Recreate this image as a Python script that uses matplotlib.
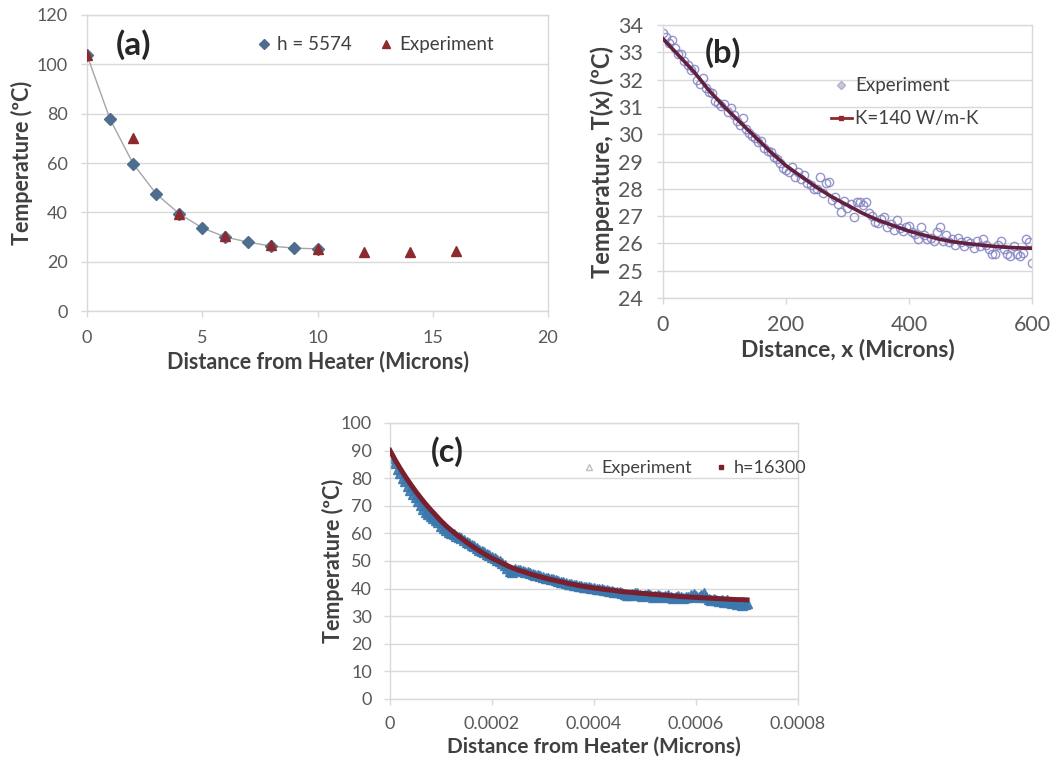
import matplotlib
matplotlib.use('Agg')
from matplotlib import pyplot as plt
from matplotlib.lines import Line2D

plt.rcParams['font.family'] = ['Lato', 'DejaVu Sans']

# (a) fin model vs. measured temperatures
a_model_x = [0, 1, 2, 3, 4, 5, 6, 7, 8, 9, 10]
a_model_t = [103.7, 77.7, 59.7, 47.5, 39.4, 33.7, 30.0, 27.9, 26.3, 25.5, 25.2]
a_exp_x = [0, 2, 4, 6, 8, 10, 12, 14, 16]
a_exp_t = [103.7, 70.0, 39.3, 30.6, 26.6, 25.2, 24.0, 24.0, 24.2]

# (b) conduction fit, K = 140 W/m-K
b_model_x = [0, 25, 50, 75, 100, 125, 150, 175, 200, 225, 250, 275, 300,
             325, 350, 375, 400, 425, 450, 475, 500, 525, 550, 575, 600]
b_model_t = [33.5, 32.9, 32.3, 31.6, 31.0, 30.45, 29.9, 29.35, 28.85, 28.45,
             28.05, 27.7, 27.4, 27.1, 26.85, 26.65, 26.45, 26.3, 26.15, 26.05,
             25.98, 25.92, 25.87, 25.84, 25.82]
b_exp_x = list(range(0, 605, 5))
b_exp_t = [33.7, 33.55, 33.35, 33.45, 33.15, 32.95, 32.95, 32.7, 32.55, 32.35,
           32.4, 32.0, 31.85, 32.05, 31.7, 31.55, 31.5, 31.2, 31.15, 31.05,
           31.1, 30.8, 30.95, 30.7, 30.5, 30.35, 30.6, 30.2, 30.05, 29.95,
           29.85, 29.7, 29.75, 29.5, 29.4, 29.35, 29.15, 29.1, 28.95, 28.75,
           28.7, 28.6, 28.8, 28.45, 28.6, 28.35, 28.5, 28.2, 28.15, 28.0,
           28.0, 28.45, 27.85, 28.2, 28.25, 27.6, 27.7, 27.45, 27.15, 27.55,
           27.3, 27.45, 26.95, 27.5, 27.5, 27.4, 27.5, 27.1, 27.0, 26.8,
           26.75, 26.9, 26.95, 26.6, 26.7, 26.5, 26.85, 26.55, 26.45, 26.6,
           26.65, 26.4, 26.35, 26.15, 26.6, 26.3, 26.15, 26.2, 26.1, 26.4,
           26.6, 26.1, 26.3, 26.05, 26.15, 25.95, 26.2, 26.05, 25.9, 26.1,
           26.0, 25.85, 26.1, 25.9, 26.15, 25.95, 25.8, 25.6, 25.6, 25.95,
           26.1, 25.8, 25.6, 25.55, 25.9, 25.6, 25.55, 25.65, 26.15, 26.05,
           25.3]

# (c) convection fit, h = 16300
c_model_x = [i * 1e-5 for i in range(71)]
c_model_t = [90.0, 86.6, 83.5, 80.6, 77.9, 75.3, 72.9, 70.6, 68.5, 66.5,
             64.5, 62.7, 61.1, 59.6, 58.2, 56.8, 55.5, 54.3, 53.1, 52.0,
             51.0, 50.1, 49.2, 48.3, 47.5, 46.8, 46.2, 45.6, 45.0, 44.5,
             44.0, 43.5, 43.1, 42.7, 42.3, 41.8, 41.5, 41.1, 40.8, 40.5,
             40.2, 40.0, 39.7, 39.5, 39.3, 39.0, 38.8, 38.7, 38.5, 38.3,
             38.2, 38.0, 37.9, 37.7, 37.6, 37.4, 37.3, 37.1, 37.0, 36.9,
             36.8, 36.7, 36.6, 36.5, 36.4, 36.3, 36.2, 36.1, 36.0, 36.0,
             35.9]
c_exp_x = [i * 5e-6 for i in range(141)]
c_exp_t = [89.0, 87.2, 85.4, 83.5, 81.9, 80.2, 78.8, 77.2, 75.8, 74.4,
           73.0, 71.7, 70.3, 68.9, 67.8, 67.1, 66.3, 65.5, 64.7, 64.0,
           62.8, 62.1, 61.4, 60.6, 60.1, 59.7, 59.1, 58.7, 58.2, 57.6,
           57.0, 56.5, 55.9, 55.3, 54.6, 54.0, 53.6, 53.1, 52.6, 52.0,
           51.4, 50.9, 50.3, 49.9, 49.2, 48.6, 47.6, 46.3, 46.0, 47.0,
           46.9, 46.6, 46.4, 46.1, 45.9, 45.6, 45.3, 45.0, 44.8, 44.5,
           44.3, 44.0, 43.8, 43.6, 43.3, 43.1, 42.8, 42.5, 42.3, 42.0,
           41.8, 41.6, 41.4, 41.2, 41.0, 40.9, 40.7, 40.5, 40.4, 40.2,
           40.1, 40.0, 39.8, 39.7, 39.5, 39.4, 39.2, 39.0, 38.9, 38.8,
           38.6, 38.4, 38.1, 37.7, 37.5, 37.9, 38.5, 38.3, 37.8, 37.3,
           37.6, 38.0, 37.5, 37.1, 37.3, 37.7, 37.4, 36.9, 37.2, 37.5,
           37.1, 36.7, 37.0, 37.3, 36.9, 36.5, 36.8, 37.1, 37.6, 38.2,
           37.3, 36.9, 37.7, 38.3, 36.9, 36.3, 36.0, 36.4, 35.9, 35.5,
           35.8, 35.3, 35.7, 35.0, 34.7, 35.1, 34.3, 34.6, 34.1, 34.5,
           34.8]
c_xticks = [0, 0.0002, 0.0004, 0.0006, 0.0008]
c_xticklabels = ['0', '0.0002', '0.0004', '0.0006', '0.0008']

GRID = '#d9d9d9'
TXT = '#404040'
TICK = '#595959'


def excel_style(ax, tick_size, xpad, ypad):
    ax.set_facecolor('white')
    ax.grid(axis='y', color=GRID, linewidth=1.0)
    ax.set_axisbelow(True)
    for s in ax.spines.values():
        s.set_color(GRID)
        s.set_linewidth(1.0)
    ax.tick_params(axis='both', colors=GRID, length=4, width=1.0,
                   labelsize=tick_size, labelcolor=TICK)
    ax.tick_params(axis='x', pad=xpad)
    ax.tick_params(axis='y', pad=ypad)


fig = plt.figure(figsize=(10.59, 7.61), dpi=100)

# ---- panel (a)
ax1 = fig.add_axes([0.0822, 0.5913, 0.4353, 0.389])
excel_style(ax1, 13, 10, 10)
ax1.plot(a_model_x, a_model_t, color='#a6a6a6', linewidth=1.0, zorder=2)
ax1.plot(a_model_x, a_model_t, linestyle='none', marker='D', markersize=6.5,
         color='#4f6d8f', markeredgecolor='#4f6d8f', zorder=3)
ax1.plot(a_exp_x, a_exp_t, linestyle='none', marker='^', markersize=7.5,
         color='#8c2a2e', markeredgecolor='#8c2a2e', zorder=4)
ax1.set_xlim(0, 20)
ax1.set_ylim(0, 120)
ax1.set_xticks([0, 5, 10, 15, 20])
ax1.set_yticks(range(0, 121, 20))
ax1.set_xlabel('Distance from Heater (Microns)', fontsize=15.5, fontweight='bold', color=TXT)
ax1.set_ylabel('Temperature (ºC)', fontsize=15.5, fontweight='bold', color=TXT)
ax1.xaxis.set_label_coords(0.5, -0.135)
ax1.yaxis.set_label_coords(-0.117, 0.5)
ax1.text(0.1, 0.9, '(a)', transform=ax1.transAxes, fontsize=24,
         fontweight='bold', color='#262626', ha='center', va='center')
h_a = [Line2D([], [], linestyle='none', marker='D', markersize=5, color='#4f6d8f'),
       Line2D([], [], linestyle='none', marker='^', markersize=6, color='#8c2a2e')]
ax1.legend(h_a, ['h = 5574', 'Experiment'], loc='center', bbox_to_anchor=(0.625, 0.9),
           ncol=2, frameon=False, fontsize=13.5, handlelength=0.8,
           handletextpad=0.3, columnspacing=1.4, labelcolor=TXT)

# ---- panel (b)
ax2 = fig.add_axes([0.626, 0.6084, 0.3485, 0.3587])
excel_style(ax2, 15.5, 8, 10.5)
ax2.plot(b_exp_x, b_exp_t, linestyle='none', marker='o', markersize=6,
         markerfacecolor='none', markeredgecolor='#8383c4', markeredgewidth=1.0,
         alpha=0.85, zorder=2)
ax2.plot(b_model_x, b_model_t, color='#62203f', linewidth=2.6, zorder=3)
ax2.set_xlim(0, 600)
ax2.set_ylim(24, 34)
ax2.set_xticks([0, 200, 400, 600])
ax2.set_yticks(range(24, 35))
ax2.set_xlabel('Distance, x (Microns)', fontsize=16.5, fontweight='bold', color=TXT)
ax2.set_ylabel('Temperature, T(x) (ºC)', fontsize=17, fontweight='bold', color=TXT)
ax2.xaxis.set_label_coords(0.5, -0.15)
ax2.yaxis.set_label_coords(-0.133, 0.5)
ax2.text(0.163, 0.9, '(b)', transform=ax2.transAxes, fontsize=23.5,
         fontweight='bold', color='#262626', ha='center', va='center')
h_b = [Line2D([], [], linestyle='none', marker='D', markersize=4,
              markerfacecolor='#c9c9dc', markeredgecolor='#b0b0c8'),
       Line2D([], [], color='#8c2a2e', linewidth=2.0, marker='s', markersize=3)]
ax2.legend(h_b, ['Experiment', 'K=140 W/m-K'], loc='upper left',
           bbox_to_anchor=(0.41, 0.87), frameon=False, fontsize=13.5,
           handlelength=1.1, handletextpad=0.2, labelspacing=0.85, labelcolor=TXT)

# ---- panel (c)
ax3 = fig.add_axes([0.3683, 0.0815, 0.3853, 0.3627])
excel_style(ax3, 13, 8, 9)
ax3.plot(c_exp_x, c_exp_t, linestyle='none', marker='^', markersize=7,
         color='#3a78ad', markeredgecolor='#3a78ad', alpha=0.9, zorder=2)
ax3.plot(c_model_x, c_model_t, color='#7a1f2e', linewidth=3.6, zorder=3)
ax3.set_xlim(0, 0.0008)
ax3.set_ylim(0, 100)
ax3.set_xticks(c_xticks)
ax3.set_xticklabels(c_xticklabels)
ax3.set_yticks(range(0, 101, 10))
ax3.set_xlabel('Distance from Heater (Microns)', fontsize=15, fontweight='bold', color=TXT)
ax3.set_ylabel('Temperature (ºC)', fontsize=15.5, fontweight='bold', color=TXT)
ax3.xaxis.set_label_coords(0.5, -0.138)
ax3.yaxis.set_label_coords(-0.113, 0.5)
ax3.text(0.14, 0.895, '(c)', transform=ax3.transAxes, fontsize=23,
         fontweight='bold', color='#262626', ha='center', va='center')
h_c = [Line2D([], [], linestyle='none', marker='^', markersize=5,
              markerfacecolor='none', markeredgecolor='#bfbfbf'),
       Line2D([], [], linestyle='none', marker='s', markersize=3, color='#7a1f2e')]
ax3.legend(h_c, ['Experiment', 'h=16300'], loc='center', bbox_to_anchor=(0.745, 0.837),
           ncol=2, frameon=False, fontsize=13, handlelength=0.8,
           handletextpad=0.3, columnspacing=1.2, labelcolor=TXT)

fig.savefig('out.png', dpi=100, facecolor='white')
